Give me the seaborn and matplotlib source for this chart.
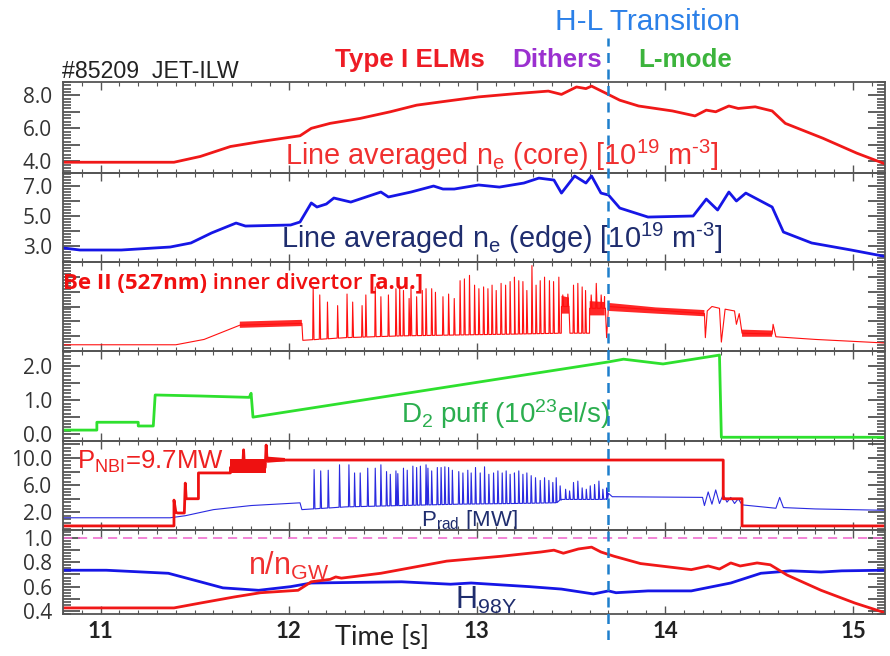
import numpy as np
import matplotlib
matplotlib.use("Agg")
import matplotlib.pyplot as plt
from matplotlib.ticker import MultipleLocator, FixedLocator
import seaborn as sns

sns.set_theme(style="ticks")
plt.rcParams["font.family"] = ["Liberation Sans", "DejaVu Sans"]
plt.rcParams["mathtext.fontset"] = "custom"
plt.rcParams["mathtext.rm"] = "Liberation Sans"
plt.rcParams["mathtext.it"] = "Liberation Sans:italic"
plt.rcParams["mathtext.bf"] = "Liberation Sans:bold"

nan = np.nan

# ---------------- data (JET pulse #85209) ----------------
t_hl = 13.70          # H-L transition time [s]
gw_limit = 1.0        # Greenwald fraction limit
nbi_level = 9.7       # NBI power during flat-top [MW]

core_t = [10.80, 11.25, 11.39, 11.53, 11.69, 11.85, 11.97, 12.06, 12.12, 12.22, 12.38, 12.54,
          12.68, 12.81, 13.01, 13.21, 13.38, 13.45, 13.53, 13.58, 13.61, 13.69, 13.76, 13.86,
          14.04, 14.16, 14.22, 14.27, 14.34, 14.39, 14.48, 14.57, 14.64, 14.84, 15.02, 15.17]
core_ne = [3.95, 3.95, 3.95, 4.3, 4.9, 5.2, 5.4, 5.55, 6.0, 6.3, 6.6, 7.0,
           7.4, 7.6, 7.9, 8.1, 8.25, 8.05, 8.5, 8.4, 8.55, 8.1, 7.7, 7.35,
           7.05, 6.75, 7.1, 7.0, 7.35, 7.2, 7.3, 7.05, 6.3, 5.4, 4.5, 3.85]

edge_t = [10.80, 10.89, 11.11, 11.37, 11.48, 11.59, 11.72, 11.77, 12.01, 12.06, 12.12, 12.15,
          12.20, 12.24, 12.33, 12.49, 12.53, 12.65, 12.77, 12.82, 12.88, 13.01, 13.12, 13.25,
          13.33, 13.41, 13.45, 13.52, 13.58, 13.61, 13.66, 13.70, 13.76, 13.91, 14.15, 14.22,
          14.28, 14.34, 14.38, 14.43, 14.57, 14.63, 14.78, 14.99, 15.17]
edge_ne = [2.87, 2.73, 2.73, 2.93, 3.2, 3.87, 4.53, 4.33, 4.4, 4.6, 5.87, 5.6,
           5.8, 6.2, 5.93, 6.6, 6.27, 6.6, 7.0, 6.8, 6.8, 7.07, 6.93, 7.2,
           7.53, 7.4, 6.53, 7.67, 7.2, 7.67, 6.53, 6.4, 5.53, 4.93, 5.0, 6.13,
           5.4, 6.6, 6.0, 6.53, 5.6, 3.93, 3.2, 2.73, 2.3]

# Be II (527 nm) inner divertor signal [a.u.]: slow level, noisy bands, ELM peaks
be_t = [10.80, 11.40, 11.55, 11.74, 12.07, 12.075, 12.3, 12.6, 12.9, 13.2, 13.449, 13.45,
        13.49, 13.495, 13.599, 13.60, 13.68, 13.69, 13.70, 14.21, 14.215, 14.225, 14.25, 14.29,
        14.30, 14.32, 14.37, 14.38, 14.395, 14.41, 14.57, 14.575, 14.59, 14.8, 15.17]
be_v = [0.07, 0.07, 0.13, 0.29, 0.31, 0.12, 0.15, 0.17, 0.18, 0.19, 0.2, 0.5,
        0.5, 0.2, 0.2, 0.48, 0.48, 0.15, 0.5, 0.42, 0.15, 0.45, 0.5, 0.48,
        0.1, 0.47, 0.45, 0.3, 0.42, 0.2, 0.19, 0.3, 0.16, 0.13, 0.09]
be_band_t = [11.74, 11.90, 12.07, nan, 13.45, 13.49, nan, 13.60, 13.68, nan, 13.70, 13.95, 14.21, nan, 14.41, 14.57]
be_band_lo = [0.26, 0.27, 0.28, nan, 0.42, 0.42, nan, 0.40, 0.40, nan, 0.45, 0.42, 0.39, nan, 0.16, 0.16]
be_band_hi = [0.33, 0.34, 0.35, nan, 0.62, 0.60, nan, 0.56, 0.55, nan, 0.54, 0.49, 0.46, nan, 0.24, 0.23]
be_elm_t = [12.13, 12.165, 12.206, 12.26, 12.31, 12.34, 12.39, 12.41, 12.46, 12.49, 12.53, 12.57,
            12.59, 12.61, 12.64, 12.65, 12.68, 12.71, 12.73, 12.76, 12.78, 12.82, 12.85, 12.88,
            12.911, 12.934, 12.961, 12.988, 13.011, 13.036, 13.059, 13.081, 13.103, 13.129, 13.153,
            13.177, 13.20, 13.223, 13.245, 13.266, 13.293, 13.315, 13.337, 13.36, 13.386, 13.408,
            13.436, 13.457, 13.484, 13.514, 13.537, 13.56, 13.578, 13.608, 13.635, 13.661, 13.679]
be_elm_v = [0.72, 0.63, 0.55, 0.51, 0.64, 0.55, 0.51, 0.63, 0.72, 0.61, 0.63, 0.70,
            0.72, 0.68, 0.59, 0.72, 0.61, 0.68, 0.70, 0.70, 0.66, 0.61, 0.64, 0.59,
            0.79, 0.81, 0.85, 0.74, 0.70, 0.72, 0.70, 0.74, 0.68, 0.76, 0.74,
            0.78, 0.83, 0.79, 0.78, 0.68, 0.96, 0.74, 0.79, 0.83, 0.79, 0.78,
            0.83, 0.63, 0.64, 0.74, 0.76, 0.72, 0.68, 0.63, 0.76, 0.63, 0.61]

d2_t = [10.80, 10.98, 10.98, 11.20, 11.20, 11.28, 11.29, 11.53, 11.79, 11.80, 11.81,
        13.70, 13.78, 13.99, 14.29, 14.30, 15.17]
d2_v = [0.12, 0.12, 0.35, 0.35, 0.24, 0.24, 1.15, 1.12, 1.08, 1.2, 0.5,
        2.12, 2.2, 2.06, 2.32, -0.09, -0.09]

nbi_t = [10.80, 11.39, 11.39, 11.40, 11.41, 11.445, 11.45, 11.455, 11.52, 11.52, 11.69, 11.69,
         11.755, 11.76, 11.765, 11.875, 11.88, 11.885, 14.31, 14.31, 14.41, 14.41, 15.17]
nbi_p = [0.0, 0.0, 3.8, 2.0, 1.9, 1.9, 6.3, 4.0, 4.0, 7.8, 7.8, 8.6,
         8.6, 11.2, 8.6, 8.6, 11.9, nbi_level, nbi_level, 4.0, 4.0, 0.0, 0.0]
nbi_band_t = [11.69, 11.88, nan, 11.885, 11.98]
nbi_band_lo = [7.8, 7.8, nan, 9.3, 9.5]
nbi_band_hi = [9.9, 9.9, nan, 10.2, 10.0]

prad_t = [10.80, 11.37, 11.45, 11.60, 11.80, 12.06, 12.07, 12.3, 12.6, 12.9, 13.2, 13.42,
          13.45, 13.69, 13.70, 13.72, 14.20, 14.21, 14.23, 14.25, 14.27, 14.29, 14.31, 14.33,
          14.35, 14.37, 14.39, 14.41, 14.59, 14.61, 14.63, 14.8, 15.17]
prad_v = [1.2, 1.2, 1.5, 2.4, 3.0, 3.4, 2.4, 2.8, 3.0, 3.2, 3.3, 3.4,
          3.9, 3.9, 4.8, 4.3, 4.2, 3.0, 5.0, 3.2, 5.3, 3.3, 4.6, 3.5,
          4.2, 3.3, 4.0, 3.1, 2.6, 4.2, 2.7, 2.5, 2.3]
prad_elm_t = [12.135, 12.17, 12.21, 12.27, 12.32, 12.35, 12.38, 12.42, 12.46, 12.49, 12.52, 12.54,
              12.57, 12.58, 12.61, 12.63, 12.66, 12.68, 12.70, 12.73, 12.74, 12.76, 12.79, 12.81,
              12.83, 12.85, 12.87, 12.904, 12.926, 12.952, 12.97, 12.993, 13.018, 13.041, 13.064,
              13.089, 13.112, 13.135, 13.156, 13.177, 13.20, 13.223, 13.245, 13.266, 13.289, 13.312,
              13.337, 13.36, 13.383, 13.404, 13.422, 13.443, 13.472, 13.493, 13.514, 13.537, 13.56,
              13.582, 13.603, 13.626, 13.649, 13.67, 13.691]
prad_elm_v = [8.3, 8.1, 8.2, 9.0, 9.0, 7.8, 7.8, 8.5, 8.5, 9.0, 8.0, 7.6,
              8.1, 7.7, 8.5, 8.2, 8.8, 8.6, 8.8, 9.0, 8.5, 8.1, 8.6, 8.6,
              8.7, 8.6, 8.2, 8.0, 7.8, 8.2, 7.8, 8.6, 7.8, 8.7, 7.6,
              7.8, 8.1, 7.8, 8.1, 7.6, 7.8, 8.1, 7.6, 7.8, 7.4, 7.1,
              6.7, 7.1, 6.7, 6.4, 7.1, 5.9, 5.4, 5.15, 6.4, 6.6, 5.6,
              5.4, 5.9, 6.1, 6.6, 5.4, 5.6]

ngw_t = [10.80, 11.13, 11.39, 11.53, 11.71, 11.85, 12.05, 12.12, 12.22, 12.25, 12.28, 12.49,
         12.84, 13.13, 13.34, 13.41, 13.46, 13.54, 13.61, 13.66, 13.73, 13.87, 14.14, 14.23,
         14.29, 14.35, 14.40, 14.49, 14.56, 14.65, 14.83, 15.01, 15.17]
ngw_v = [0.425, 0.425, 0.425, 0.465, 0.515, 0.55, 0.57, 0.64, 0.66, 0.68, 0.67, 0.71,
         0.81, 0.85, 0.885, 0.9, 0.875, 0.91, 0.925, 0.885, 0.85, 0.79, 0.74, 0.77,
         0.745, 0.795, 0.77, 0.795, 0.78, 0.695, 0.57, 0.465, 0.385]

h98_t = [10.80, 11.03, 11.36, 11.53, 11.65, 11.84, 12.01, 12.12, 12.60, 12.86, 12.97, 13.28,
         13.45, 13.62, 13.70, 13.74, 13.91, 14.14, 14.35, 14.51, 14.67, 14.83, 14.94, 15.17]
h98_v = [0.735, 0.735, 0.71, 0.64, 0.59, 0.57, 0.6, 0.63, 0.64, 0.62, 0.63, 0.6,
         0.58, 0.54, 0.565, 0.55, 0.565, 0.565, 0.63, 0.71, 0.73, 0.72, 0.73, 0.735]

time_ticks = [11, 12, 13, 14, 15]

# ---------------- helpers ----------------
RED = "#F01818"
BLUE = "#1616E6"
NAVY = "#1F2D6E"
GREEN_LINE = "#2EE02E"
T_MIN, T_MAX = 10.80, 15.17


def add_peaks(base_t, base_v, peak_t, peak_v, rise=0.0025, fall=0.0045):
    """Merge narrow peaks into a slowly varying trace."""
    foot = np.interp(peak_t, base_t, base_v)
    pts = list(zip(base_t, base_v))
    for pt, pv, f in zip(peak_t, peak_v, foot):
        pts += [(pt - rise, f), (pt, pv), (pt + fall, f)]
    pts.sort(key=lambda p: p[0])
    t, v = zip(*pts)
    return np.array(t), np.array(v)


def trace(ax, t, v, color, lw):
    sns.lineplot(x=list(t), y=list(v), ax=ax, color=color, linewidth=lw,
                 sort=False, estimator=None, legend=False)


W, H = 890, 656
fig = plt.figure(figsize=(W / 100, H / 100), dpi=100)
X0, X1 = 63, 885
edges = [82, 173, 262, 351, 441, 530, 614]

axes = []
for i in range(6):
    top, bot = edges[i], edges[i + 1]
    ax = fig.add_axes([X0 / W, 1 - bot / H, (X1 - X0) / W, (bot - top) / H])
    axes.append(ax)

ytick_font = dict(family="Open Sans", size=15, color="#333333")


def style_axis(ax, yticks, ylabels, yminor, ylim, last=False):
    ax.set_xlim(T_MIN, T_MAX)
    ax.set_ylim(*ylim)
    ax.xaxis.set_major_locator(FixedLocator(time_ticks))
    ax.xaxis.set_minor_locator(MultipleLocator(0.1))
    ax.set_yticks(yticks)
    ax.set_yticklabels(ylabels, fontdict=ytick_font)
    ax.yaxis.set_minor_locator(MultipleLocator(yminor))
    ax.tick_params(axis="x", which="both", direction="in", top=True, bottom=True,
                   color="#555555", labelbottom=last, pad=5)
    ax.tick_params(axis="x", which="major", length=6, width=1.0)
    ax.tick_params(axis="x", which="minor", length=3, width=0.8)
    ax.tick_params(axis="y", which="both", direction="in", left=True, right=True,
                   color="#444444", pad=8)
    ax.tick_params(axis="y", which="major", length=12, width=1.2)
    ax.tick_params(axis="y", which="minor", length=6, width=1.1)
    for sp in ax.spines.values():
        sp.set_color("#555555")
        sp.set_linewidth(1.3)
    ax.set_xlabel("")
    ax.set_ylabel("")
    ax.patch.set_alpha(0)


# Panel 1: core line-averaged density
ax = axes[0]
trace(ax, core_t, core_ne, RED, 2.0)
style_axis(ax, [4, 5, 6, 7, 8], ["4.0", "", "6.0", "", "8.0"], 0.2, (3.3, 8.8))
ax.text(0.27, 0.085, r"Line averaged n$_{\mathregular{e}}$ (core) [10$^{\mathregular{19}}$ m$^{\text{-3}}$]",
        transform=ax.transAxes, color="#F03030", fontsize=20.8, va="baseline")

# Panel 2: edge line-averaged density
ax = axes[1]
trace(ax, edge_t, edge_ne, BLUE, 2.0)
style_axis(ax, [3, 4, 5, 6, 7], ["3.0", "", "5.0", "", "7.0"], 0.2, (1.93, 7.87))
ax.text(0.265, 0.155, r"Line averaged n$_{\mathregular{e}}$ (edge) [10$^{\mathregular{19}}$ m$^{\text{-3}}$]",
        transform=ax.transAxes, color=NAVY, fontsize=20.8, va="baseline")

# Panel 3: Be II emission
ax = axes[2]
bt, bv = add_peaks(be_t, be_v, be_elm_t, be_elm_v)
ax.fill_between(be_band_t, be_band_lo, be_band_hi, color="#FF1010", alpha=0.9, linewidth=0)
trace(ax, bt, bv, "#FF1010", 0.8)
style_axis(ax, list(np.arange(0, 1.01, 1 / 6)), [""] * 7, 1 / 30, (0, 1))
t1 = ax.text(0.0, 0.70, "Be II (527nm)", transform=ax.transAxes, color="#F01010",
             fontsize=16, family="Open Sans", weight="bold", va="baseline")
t2 = ax.annotate(" inner divertor ", xy=(1, 0), xycoords=t1, va="bottom", ha="left",
                 color="#F01010", fontsize=16, family="Open Sans", weight="semibold")
ax.annotate("[a.u.]", xy=(1, 0), xycoords=t2, va="bottom", ha="left",
            color="#F01010", fontsize=16, family="Open Sans", weight="bold")

# Panel 4: D2 fuelling
ax = axes[3]
trace(ax, d2_t, d2_v, GREEN_LINE, 2.0)
style_axis(ax, [0, 0.5, 1, 1.5, 2], ["0.0", "", "1.0", "", "2.0"], 0.1, (-0.2, 2.44))
ax.text(0.411, 0.2, r"D$_{\mathregular{2}}$ puff (10$^{\mathregular{23}}$el/s)",
        transform=ax.transAxes, color="#2BAE4F", fontsize=20, va="baseline")

# Panel 5: NBI and radiated power
ax = axes[4]
pt, pv = add_peaks(prad_t, prad_v, prad_elm_t, prad_elm_v)
trace(ax, pt, pv, "#2A2AE0", 0.8)
ax.fill_between(nbi_band_t, nbi_band_lo, nbi_band_hi, color="#EE1111", linewidth=0)
trace(ax, nbi_t, nbi_p, "#EE1111", 2.0)
style_axis(ax, [0, 2, 4, 6, 8, 10, 12], ["", "2.0", "", "6.0", "", "10.0", ""], 0.5, (-0.6, 12.5))
ax.text(0.017, 0.685, r"P$_{\mathregular{NBI}}$=" + f"{nbi_level:.1f}MW",
        transform=ax.transAxes, color="#EE2020", fontsize=18.5, va="baseline")
ax.text(0.435, 0.045, r"P$_{\mathregular{rad}}$ [MW]",
        transform=ax.transAxes, color=NAVY, fontsize=16, va="baseline")

# Panel 6: Greenwald fraction and confinement factor
ax = axes[5]
ax.axhline(gw_limit, color="#F070D0", linewidth=1.2, linestyle=(0, (5.5, 3.5)))
trace(ax, h98_t, h98_v, BLUE, 2.0)
trace(ax, ngw_t, ngw_v, RED, 2.0)
style_axis(ax, [0.4, 0.5, 0.6, 0.7, 0.8, 0.9, 1.0], ["0.4", "", "0.6", "", "0.8", "", "1.0"],
           0.025, (0.375, 1.066), last=True)
ax.set_xticklabels([str(t) for t in time_ticks], fontdict=dict(family="Lato", weight="bold",
                                                               size=16, color="#222222"))
ax.text(0.225, 0.47, r"n/n$_{\mathregular{GW}}$", transform=ax.transAxes,
        color="#F03030", fontsize=22, va="baseline")
ax.text(0.477, 0.06, r"H$_{\mathregular{98Y}}$", transform=ax.transAxes,
        color=NAVY, fontsize=22, va="baseline")

# Time axis title
fig.text(382 / W, 1 - 645 / H, "Time [s]", ha="center", va="baseline",
         family="Lato", fontsize=19.5, color="#222222")

# H-L transition marker spanning all panels
ov = fig.add_axes([X0 / W, 1 - 640 / H, (X1 - X0) / W, (640 - 38) / H])
ov.set_xlim(T_MIN, T_MAX)
ov.axis("off")
ov.axvline(t_hl, color="#1E7FCC", linewidth=1.8, linestyle=(0, (4.0, 2.6)))

# Regime labels
fig.text(62 / W, 1 - 78 / H, "#85209  JET-ILW", ha="left", va="baseline",
         fontsize=16.7, color="#222222")
fig.text(410 / W, 1 - 67 / H, "Type I ELMs", ha="center", va="baseline",
         fontsize=18.7, weight="bold", color="#EE1C25")
fig.text(557 / W, 1 - 67 / H, "Dithers", ha="center", va="baseline",
         fontsize=18.7, weight="bold", color="#9B30D0")
fig.text(685 / W, 1 - 67 / H, "L-mode", ha="center", va="baseline",
         fontsize=18.7, weight="bold", color="#3CB43C")
fig.text(648 / W, 1 - 30 / H, "H-L Transition", ha="center", va="baseline",
         fontsize=21.5, color="#2B80E8")

fig.savefig("out.png", dpi=100)
